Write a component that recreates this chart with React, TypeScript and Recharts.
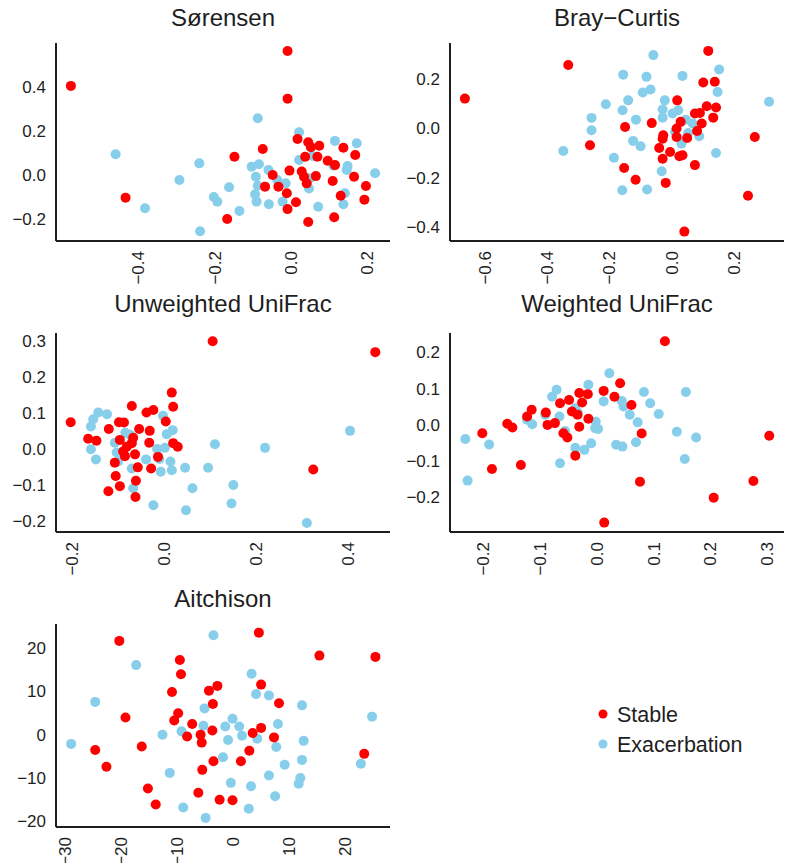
import { Scatter, ScatterChart, XAxis, YAxis } from "recharts";

const RED = "#ff0000";
const BLUE = "#87ceeb";
const INK = "#1e1e1e";
const FONT = '"Liberation Sans", Arial, Helvetica, sans-serif';

type Pt = [number, number];

// Sørensen
const sorensenStable: Pt[] = [
  [-0.576, 0.405], [-0.433, -0.103], [-0.009, 0.564], [-0.009, 0.347], [-0.148, 0.083],
  [-0.074, 0.118], [0.017, 0.164], [0.045, 0.149], [0.074, 0.133], [0.052, 0.126],
  [0.137, 0.124], [0.168, 0.091], [0.037, 0.083], [0.069, 0.083], [0.096, 0.065],
  [0.115, 0.045], [-0.004, 0.02], [0.028, 0.016], [0.065, -0.005], [-0.048, 0.0],
  [0.034, -0.008], [0.041, -0.038], [0.165, -0.008], [0.109, -0.027], [-0.068, -0.053],
  [-0.033, -0.053], [-0.011, -0.083], [0.196, -0.05], [0.13, -0.094], [0.192, -0.112],
  [0.013, -0.124], [-0.009, -0.155], [0.113, -0.192], [0.045, -0.214], [-0.167, -0.2],
];
const sorensenExac: Pt[] = [
  [-0.459, 0.094], [-0.382, -0.151], [-0.292, -0.023], [-0.24, 0.053], [-0.238, -0.256],
  [-0.202, -0.1], [-0.193, -0.121], [-0.087, 0.258], [0.021, 0.194], [0.115, 0.155],
  [0.172, 0.144], [0.021, 0.068], [0.056, 0.086], [-0.103, 0.038], [-0.084, 0.049],
  [-0.059, 0.023], [-0.092, -0.008], [-0.036, -0.023], [-0.014, -0.038], [-0.087, -0.049],
  [0.111, 0.042], [0.148, 0.041], [0.146, 0.023], [0.22, 0.008], [0.047, -0.061],
  [0.05, -0.015], [-0.094, -0.088], [-0.09, -0.121], [-0.058, -0.133], [-0.022, -0.121],
  [0.071, -0.144], [0.141, -0.083], [0.137, -0.133], [-0.135, -0.164], [-0.162, -0.056],
];

// Bray-Curtis
const brayStable: Pt[] = [
  [-0.666, 0.12], [-0.333, 0.256], [-0.263, -0.069], [0.118, 0.313], [0.102, 0.185],
  [0.139, 0.188], [0.018, 0.113], [0.113, 0.089], [0.075, 0.06], [0.091, 0.062],
  [0.143, 0.084], [0.134, 0.043], [0.097, 0.019], [0.029, 0.026], [0.016, -0.001],
  [-0.064, 0.021], [-0.15, 0.005], [-0.027, -0.028], [0.016, -0.035], [0.082, -0.011],
  [0.05, -0.039], [-0.029, -0.042], [-0.04, -0.08], [-0.005, -0.096], [0.025, -0.113],
  [0.035, -0.109], [-0.029, -0.123], [0.268, -0.035], [0.075, -0.149], [-0.153, -0.161],
  [-0.116, -0.208], [-0.019, -0.221], [0.246, -0.273], [0.041, -0.418],
];
const brayExac: Pt[] = [
  [-0.349, -0.092], [-0.258, 0.042], [-0.258, -0.008], [-0.059, 0.296], [-0.156, 0.217],
  [-0.081, 0.208], [0.035, 0.212], [0.153, 0.238], [0.148, 0.147], [-0.093, 0.145],
  [-0.068, 0.157], [0.314, 0.107], [-0.212, 0.097], [-0.14, 0.113], [-0.158, 0.073],
  [-0.022, 0.113], [-0.029, 0.076], [-0.029, 0.043], [0.003, 0.06], [0.021, 0.073],
  [-0.115, 0.035], [0.046, 0.035], [0.068, 0.019], [0.011, -0.015], [0.053, -0.019],
  [0.089, -0.032], [-0.124, -0.051], [-0.1, -0.073], [0.032, -0.062], [-0.186, -0.119],
  [0.143, -0.1], [-0.032, -0.174], [-0.159, -0.251], [-0.079, -0.248],
];

// Unweighted UniFrac
const unwStable: Pt[] = [
  [-0.204, 0.075], [0.105, 0.299], [0.016, 0.157], [0.019, 0.118], [-0.071, 0.12],
  [-0.039, 0.102], [-0.024, 0.109], [-0.099, 0.075], [-0.088, 0.074], [0.003, 0.077],
  [-0.121, 0.056], [-0.055, 0.056], [-0.032, 0.051], [-0.166, 0.029], [-0.148, 0.024],
  [-0.097, 0.026], [-0.068, 0.032], [-0.071, 0.017], [-0.082, 0.007], [-0.09, -0.006],
  [-0.086, -0.019], [-0.033, 0.018], [0.019, 0.017], [0.029, 0.007], [-0.108, -0.037],
  [-0.064, -0.014], [-0.058, -0.05], [-0.029, -0.053], [-0.014, -0.021], [-0.106, -0.074],
  [-0.097, -0.102], [-0.062, -0.087], [-0.122, -0.116], [-0.063, -0.132], [0.459, 0.269],
  [0.324, -0.056],
];
const unwExac: Pt[] = [
  [-0.144, 0.102], [-0.125, 0.097], [-0.155, 0.083], [-0.16, 0.063], [-0.16, 0.0],
  [-0.149, -0.028], [-0.108, 0.018], [-0.085, 0.046], [-0.075, 0.04], [-0.104, -0.009],
  [-0.101, -0.034], [-0.071, -0.053], [-0.068, -0.108], [-0.04, -0.028], [-0.024, -0.155],
  [-0.003, 0.093], [0.005, 0.042], [0.018, 0.053], [-0.016, 0.001], [0.001, 0.004],
  [-0.011, -0.027], [-0.008, -0.062], [0.013, -0.034], [0.016, -0.058], [0.045, -0.051],
  [0.061, -0.108], [0.047, -0.169], [0.095, -0.051], [0.11, 0.014], [0.15, -0.099],
  [0.146, -0.15], [0.219, 0.004], [0.404, 0.051], [0.31, -0.204],
];

// Weighted UniFrac
const wStable: Pt[] = [
  [-0.202, -0.023], [-0.185, -0.122], [-0.158, 0.003], [-0.149, -0.007], [-0.134, -0.111],
  [-0.123, 0.023], [-0.115, 0.042], [-0.09, 0.034], [-0.087, 0.0], [-0.074, 0.005],
  [-0.065, 0.06], [-0.049, 0.069], [-0.044, 0.037], [-0.034, 0.028], [-0.026, 0.062],
  [-0.031, 0.088], [-0.016, 0.085], [-0.031, -0.005], [-0.015, 0.017], [-0.059, -0.023],
  [-0.052, -0.035], [-0.038, -0.085], [0.12, 0.231], [0.041, 0.115], [0.012, 0.094],
  [0.031, 0.078], [0.061, 0.055], [0.079, -0.024], [0.076, -0.157], [0.304, -0.03],
  [0.276, -0.155], [0.206, -0.201], [0.013, -0.27],
];
const wExac: Pt[] = [
  [-0.232, -0.039], [-0.228, -0.154], [-0.19, -0.054], [-0.123, 0.014], [-0.114, 0.002],
  [-0.091, 0.028], [-0.079, 0.078], [-0.071, 0.097], [-0.066, 0.023], [-0.056, -0.017],
  [-0.065, -0.106], [-0.038, 0.046], [-0.034, 0.035], [-0.038, -0.063], [-0.022, -0.069],
  [-0.015, 0.111], [-0.01, -0.051], [-0.003, -0.009], [0.022, 0.143], [0.012, 0.065],
  [-0.002, 0.009], [0.002, -0.011], [0.034, -0.055], [0.045, -0.06], [0.044, 0.066],
  [0.047, 0.051], [0.058, 0.028], [0.083, 0.091], [0.094, 0.06], [0.072, 0.007],
  [0.109, 0.03], [0.069, -0.048], [0.157, 0.091], [0.141, -0.019], [0.175, -0.035],
  [0.155, -0.094],
];

// Aitchison
const aitStable: Pt[] = [
  [-20.3, 21.7], [-19.2, 4.0], [-24.6, -3.5], [-22.6, -7.4], [-16.3, -2.7],
  [-15.2, -12.4], [-13.8, -16.1], [-9.5, 17.3], [-9.3, 14.0], [-10.9, 9.9],
  [-9.8, 5.0], [-10.5, 3.3], [-7.3, 2.5], [-8.2, -0.4], [4.6, 23.6],
  [15.4, 18.3], [25.4, 18.0], [5.0, 11.6], [-4.3, 10.2], [-2.8, 11.3],
  [-3.6, 7.1], [8.2, 7.3], [-3.7, 1.0], [5.0, 1.6], [3.5, 0.4],
  [-5.8, 0.0], [-5.6, -1.8], [7.3, -0.6], [2.9, -3.7], [1.4, -6.1],
  [-3.5, -6.1], [-5.5, -8.1], [-6.2, -13.4], [-2.4, -15.0], [-0.1, -15.1],
  [23.4, -4.4],
];
const aitExac: Pt[] = [
  [-28.9, -2.1], [-24.6, 7.6], [-17.3, 16.1], [-12.6, 0.0], [-11.3, -8.8],
  [-9.2, 0.8], [-8.9, -16.8], [-3.5, 23.0], [3.3, 14.1], [4.1, 9.4],
  [6.4, 9.1], [12.3, 6.8], [-5.1, 6.1], [-5.3, 2.1], [-0.1, 3.7],
  [-1.4, 1.9], [1.1, 1.9], [8.0, 2.5], [-0.9, -1.2], [1.6, -0.2],
  [4.3, -0.9], [12.6, -1.4], [7.7, -2.8], [-1.8, -5.2], [12.3, -5.8],
  [9.2, -6.9], [6.4, -9.4], [12.0, -10.0], [11.7, -11.3], [-0.4, -11.1],
  [3.2, -11.9], [7.5, -14.2], [2.8, -17.1], [-4.9, -19.2], [24.8, 4.2],
  [22.8, -6.7],
];

const sorensenXTicks = [-0.4, -0.2, 0, 0.2];
const sorensenYTicks = [-0.2, 0, 0.2, 0.4];
const brayXTicks = [-0.6, -0.4, -0.2, 0, 0.2];
const brayYTicks = [-0.4, -0.2, 0, 0.2];
const unwXTicks = [-0.2, 0, 0.2, 0.4];
const unwYTicks = [-0.2, -0.1, 0, 0.1, 0.2, 0.3];
const wXTicks = [-0.2, -0.1, 0, 0.1, 0.2, 0.3];
const wYTicks = [-0.2, -0.1, 0, 0.1, 0.2];
const aitXTicks = [-30, -20, -10, 0, 10, 20];
const aitYTicks = [-20, -10, 0, 10, 20];

const legendLabels = ["Stable", "Exacerbation"];

const toRows = (pts: Pt[]) => pts.map(([x, y]) => ({ x, y }));
const minus = (v: number) => (v < 0 ? "\u2212" : "");
const fmt1 = (v: number) => minus(v) + Math.abs(v).toFixed(1);
const fmt0 = (v: number) => minus(v) + Math.abs(v).toFixed(0);

const dot = (fill: string) => (p: any) => <circle cx={p.cx} cy={p.cy} r={5} fill={fill} />;

const xTick = (fmt: (v: number) => string) => (p: any) => (
  <text
    x={p.x}
    y={p.y + 10}
    transform={`rotate(-90 ${p.x} ${p.y + 10})`}
    textAnchor="end"
    dy="0.35em"
    fontSize={17}
    fontFamily={FONT}
    fill={INK}
  >
    {fmt(p.payload.value)}
  </text>
);

const yTick = (fmt: (v: number) => string) => (p: any) => (
  <text x={p.x - 10} y={p.y} textAnchor="end" dy="0.35em" fontSize={17} fontFamily={FONT} fill={INK}>
    {fmt(p.payload.value)}
  </text>
);

type PanelProps = {
  title: string;
  left: number;
  top: number;
  width: number;
  height: number;
  plotTop: number;
  yWidth: number;
  xHeight: number;
  right: number;
  xDomain: [number, number];
  yDomain: [number, number];
  xTicks: number[];
  yTicks: number[];
  fmt: (v: number) => string;
  stable: Pt[];
  exac: Pt[];
};

function Panel(p: PanelProps) {
  return (
    <div style={{ position: "absolute", left: p.left, top: p.top }}>
      <ScatterChart
        width={p.width}
        height={p.height}
        margin={{ top: p.plotTop, right: p.right, bottom: 0, left: 0 }}
      >
        <XAxis
          type="number"
          dataKey="x"
          domain={p.xDomain}
          ticks={p.xTicks}
          interval={0}
          allowDataOverflow
          height={p.xHeight}
          tickLine={false}
          tickSize={0}
          tickMargin={0}
          axisLine={{ stroke: INK, strokeWidth: 2 }}
          tick={xTick(p.fmt)}
        />
        <YAxis
          type="number"
          dataKey="y"
          domain={p.yDomain}
          ticks={p.yTicks}
          interval={0}
          allowDataOverflow
          width={p.yWidth}
          tickLine={false}
          tickSize={0}
          tickMargin={0}
          axisLine={{ stroke: INK, strokeWidth: 2 }}
          tick={yTick(p.fmt)}
        />
        <Scatter data={toRows(p.exac)} shape={dot(BLUE)} isAnimationActive={false} />
        <Scatter data={toRows(p.stable)} shape={dot(RED)} isAnimationActive={false} />
      </ScatterChart>
    </div>
  );
}

const panels: PanelProps[] = [
  {
    title: "Sørensen", left: 0, top: 0, width: 395, height: 290, plotTop: 43, yWidth: 56, xHeight: 49, right: 5,
    xDomain: [-0.615, 0.259], yDomain: [-0.3, 0.6], xTicks: sorensenXTicks, yTicks: sorensenYTicks,
    fmt: fmt1, stable: sorensenStable, exac: sorensenExac,
  },
  {
    title: "Bray\u2212Curtis", left: 395, top: 0, width: 395, height: 290, plotTop: 43, yWidth: 55, xHeight: 49, right: 6,
    xDomain: [-0.714, 0.362], yDomain: [-0.456, 0.345], xTicks: brayXTicks, yTicks: brayYTicks,
    fmt: fmt1, stable: brayStable, exac: brayExac,
  },
  {
    title: "Unweighted UniFrac", left: 0, top: 290, width: 395, height: 290, plotTop: 43, yWidth: 56, xHeight: 48, right: 5,
    xDomain: [-0.236, 0.491], yDomain: [-0.229, 0.322], xTicks: unwXTicks, yTicks: unwYTicks,
    fmt: fmt1, stable: unwStable, exac: unwExac,
  },
  {
    title: "Weighted UniFrac", left: 395, top: 290, width: 395, height: 290, plotTop: 43, yWidth: 55, xHeight: 48, right: 6,
    xDomain: [-0.259, 0.33], yDomain: [-0.296, 0.254], xTicks: wXTicks, yTicks: wYTicks,
    fmt: fmt1, stable: wStable, exac: wExac,
  },
  {
    title: "Aitchison", left: 0, top: 580, width: 395, height: 283, plotTop: 44, yWidth: 56, xHeight: 36, right: 5,
    xDomain: [-31.6, 28.0], yDomain: [-21.3, 25.6], xTicks: aitXTicks, yTicks: aitYTicks,
    fmt: fmt0, stable: aitStable, exac: aitExac,
  },
];

const titleBaselines = [26, 26, 312, 312, 607];

export default function App() {
  return (
    <div style={{ position: "absolute", left: 0, top: 0, width: 790, height: 863, background: "#fff", overflow: "hidden" }}>
      {panels.map((p) => (
        <Panel key={p.title} {...p} />
      ))}
      <svg
        width={790}
        height={863}
        style={{ position: "absolute", left: 0, top: 0, pointerEvents: "none" }}
      >
        {panels.map((p, i) => {
          const plotLeft = p.left + p.yWidth;
          const plotRight = p.left + p.width - p.right;
          return (
            <text
              key={p.title}
              x={(plotLeft + plotRight) / 2}
              y={titleBaselines[i]}
              textAnchor="middle"
              fontSize={24}
              fontFamily={FONT}
              fill={INK}
            >
              {p.title}
            </text>
          );
        })}
        {legendLabels.map((label, i) => (
          <g key={label}>
            <circle cx={603} cy={714 + i * 30} r={4.5} fill={i === 0 ? RED : BLUE} />
            <text x={617} y={714 + i * 30} dy="0.35em" fontSize={21.5} fontFamily={FONT} fill={INK}>
              {label}
            </text>
          </g>
        ))}
      </svg>
    </div>
  );
}
